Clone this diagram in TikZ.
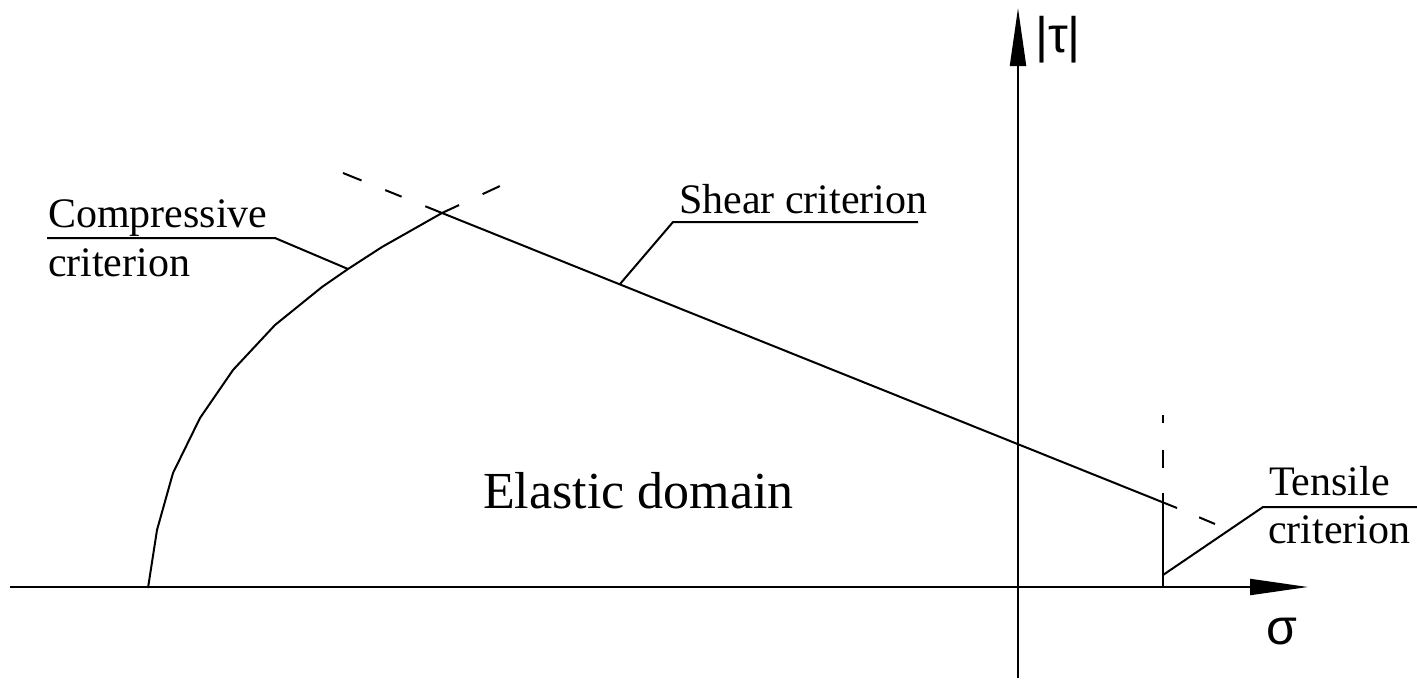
\documentclass[tikz,border=0pt]{standalone}
\usepackage{fontspec}
\setmainfont{Liberation Serif}
\newfontfamily\greekfont{Liberation Sans}
\usetikzlibrary{arrows.meta}
\begin{document}
\begin{tikzpicture}[x=0.5pt,y=-0.5pt, line width=1pt, line join=round,
  lbl/.style={font=\fontsize{21}{25}\selectfont, inner sep=0pt, anchor=base west},
  axisarrow/.style={-{Triangle[length=29pt,width=8pt]}},
  greek/.style={font=\greekfont\fontsize{25}{30}\selectfont, inner sep=0pt}]
\useasboundingbox (0,0) rectangle (1417,681);
% axes
\coordinate (xs) at (10,587);
\coordinate (xe) at (1308,587);
\coordinate (ys) at (1018,678);
\coordinate (ye) at (1018,8);
\draw[axisarrow] (xs) -- (xe);
\draw[axisarrow] (ys) -- (ye);
\node[greek] (tau) at (1058,40) {|τ|};
\node[greek] (sigma) at (1282,632) {σ};
% compressive criterion
\coordinate (I) at (442,213);
\draw (148,588) -- (157,530) -- (173,473) -- (200,418) -- (233,370) -- (275,325)
      -- (322,287) -- (348,269) -- (382,247) -- (I);
\draw[dash pattern=on 9.4pt off 13pt on 9.5pt] (I) -- (500,186);
% shear criterion
\coordinate (S) at (1177,508);
\draw (I) -- (S);
\draw[dash pattern=on 9pt off 12.8pt on 8.8pt off 12.8pt on 10pt] (I) -- (343,173);
\draw[dash pattern=on 0pt off 12pt on 8.5pt] (S) -- (1215,524);
% tensile criterion
\coordinate (T0) at (1163,587);
\coordinate (T1) at (1163,493);
\draw (T0) -- (T1);
\draw[dash pattern=on 4pt off 13.5pt on 9pt off 12.5pt] (1163,415) -- (T1);
% labels and leaders
\node[lbl] (comp) at (47,227) {Compressive};
\node[lbl] (comp2) at (47,276) {criterion};
\coordinate (cL) at (348,269);
\draw (cL) -- (275,238) -- (47,238);
\node[lbl] (shear) at (678,213) {Shear criterion};
\coordinate (sL) at (620,284);
\draw (sL) -- (673,222) -- (918,222);
\node[lbl] (tens) at (1268,495) {Tensile};
\node[lbl] (tens2) at (1267,543) {criterion};
\coordinate (tL) at (1163,575);
\draw (tL) -- (1263,507) -- (1417,507);
\node[font=\fontsize{26}{31}\selectfont, inner sep=0pt, anchor=base west] (el) at (482,508) {Elastic domain};
\end{tikzpicture}
\end{document}
